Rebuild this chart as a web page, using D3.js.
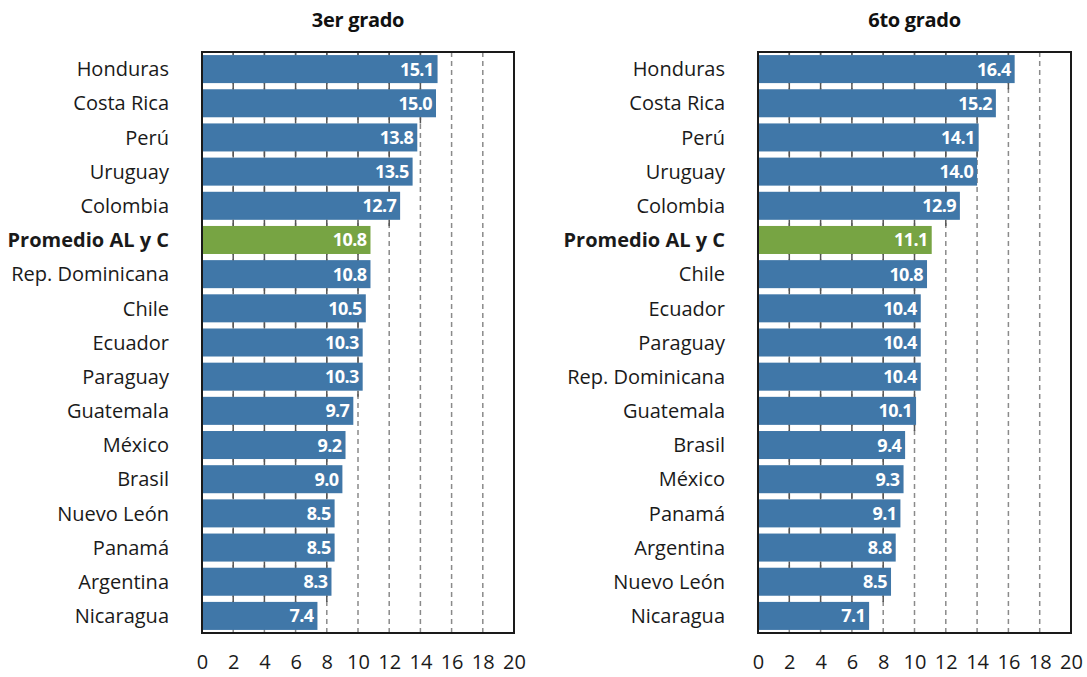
<!DOCTYPE html>
<html>
<head>
<meta charset="utf-8">
<script src="https://cdn.jsdelivr.net/npm/d3@7"></script>
<style>
  body { margin: 0; background: #fff; }
  svg { font-family: "Open Sans", "Noto Sans", sans-serif; }
</style>
</head>
<body>
<svg id="chart" width="1087" height="677"></svg>
<script>
// Data
const titles = ['3er grado', '6to grado'];

const countries3 = ['Honduras', 'Costa Rica', 'Perú', 'Uruguay', 'Colombia', 'Promedio AL y C',
  'Rep. Dominicana', 'Chile', 'Ecuador', 'Paraguay', 'Guatemala', 'México', 'Brasil',
  'Nuevo León', 'Panamá', 'Argentina', 'Nicaragua'];
const values3 = [15.1, 15.0, 13.8, 13.5, 12.7, 10.8, 10.8, 10.5, 10.3, 10.3, 9.7, 9.2, 9.0, 8.5, 8.5, 8.3, 7.4];

const countries6 = ['Honduras', 'Costa Rica', 'Perú', 'Uruguay', 'Colombia', 'Promedio AL y C',
  'Chile', 'Ecuador', 'Paraguay', 'Rep. Dominicana', 'Guatemala', 'Brasil', 'México',
  'Panamá', 'Argentina', 'Nuevo León', 'Nicaragua'];
const values6 = [16.4, 15.2, 14.1, 14.0, 12.9, 11.1, 10.8, 10.4, 10.4, 10.4, 10.1, 9.4, 9.3, 9.1, 8.8, 8.5, 7.1];

const xTicks = [0, 2, 4, 6, 8, 10, 12, 14, 16, 18, 20];
const average = 'Promedio AL y C';

const svg = d3.select('#chart');
const plotTop = 52, plotBottom = 633;

// Draw one panel
function drawPanel(x0, x1, title, countries, values) {
  const data = countries.map((c, i) => ({ name: c, value: values[i] }));

  const x = d3.scaleLinear().domain([0, 20]).range([x0, x1]);
  const y = d3.scaleBand().domain(countries).range([plotTop, plotBottom]).paddingInner(0.18).paddingOuter(0.09);

  const g = svg.append('g');

  // title
  g.append('text')
    .attr('x', (x0 + x1) / 2)
    .attr('y', 27)
    .attr('text-anchor', 'middle')
    .attr('font-size', 20)
    .attr('font-weight', 'bold')
    .attr('letter-spacing', -0.3)
    .attr('fill', '#111')
    .text(title);

  // dashed gridlines
  g.selectAll('.grid')
    .data(xTicks.slice(1, -1))
    .enter()
    .append('line')
    .attr('x1', d => x(d))
    .attr('x2', d => x(d))
    .attr('y1', plotTop)
    .attr('y2', plotBottom)
    .attr('stroke', '#8a8a8a')
    .attr('stroke-width', 1.5)
    .attr('stroke-dasharray', '5,4');

  // bars
  g.selectAll('.bar')
    .data(data)
    .enter()
    .append('rect')
    .attr('x', x(0))
    .attr('y', d => y(d.name))
    .attr('width', d => x(d.value) - x(0))
    .attr('height', y.bandwidth())
    .attr('fill', d => d.name === average ? '#77a443' : '#4077a8');

  // small dark ticks in the gaps above each bar
  const step = y.step();
  const gap = step - y.bandwidth();
  data.forEach((d, i) => {
    const prev = i > 0 ? data[i - 1].value : 0;
    const lim = Math.max(prev, d.value);
    const yTop = y(d.name) - (i === 0 ? y.paddingOuter() * step : gap);
    g.selectAll(null)
      .data(xTicks.slice(1, -1).filter(t => t < lim))
      .enter()
      .append('line')
      .attr('x1', t => x(t))
      .attr('x2', t => x(t))
      .attr('y1', yTop)
      .attr('y2', y(d.name))
      .attr('stroke', '#555')
      .attr('stroke-width', 1.5);
  });

  // value labels
  g.selectAll('.val')
    .data(data)
    .enter()
    .append('text')
    .attr('x', d => x(d.value) - 4)
    .attr('y', d => y(d.name) + y.bandwidth() / 2)
    .attr('dy', '0.36em')
    .attr('text-anchor', 'end')
    .attr('font-size', 18)
    .attr('font-weight', 'bold')
    .attr('letter-spacing', -0.6)
    .attr('fill', '#fff')
    .text(d => d.value.toFixed(1));

  // category labels
  g.selectAll('.lab')
    .data(data)
    .enter()
    .append('text')
    .attr('x', x0 - 33)
    .attr('y', d => y(d.name) + y.bandwidth() / 2)
    .attr('dy', '0.36em')
    .attr('text-anchor', 'end')
    .attr('font-size', 20)
    .attr('font-weight', d => d.name === average ? 'bold' : 'normal')
    .attr('fill', '#1a1a1a')
    .text(d => d.name);

  // frame
  g.append('rect')
    .attr('x', x0)
    .attr('y', plotTop)
    .attr('width', x1 - x0)
    .attr('height', plotBottom - plotTop)
    .attr('fill', 'none')
    .attr('stroke', '#1a1a1a')
    .attr('stroke-width', 2);

  // x axis labels
  const axis = d3.axisBottom(x).tickValues(xTicks).tickSize(0).tickPadding(0);
  const ax = g.append('g')
    .attr('transform', `translate(0, ${plotBottom + 22})`)
    .call(axis);
  ax.select('.domain').remove();
  ax.selectAll('text')
    .attr('font-size', 20)
    .attr('font-family', '"Open Sans", sans-serif')
    .attr('fill', '#1a1a1a');
}

drawPanel(202, 514, titles[0], countries3, values3);
drawPanel(758, 1071, titles[1], countries6, values6);
</script>
</body>
</html>
